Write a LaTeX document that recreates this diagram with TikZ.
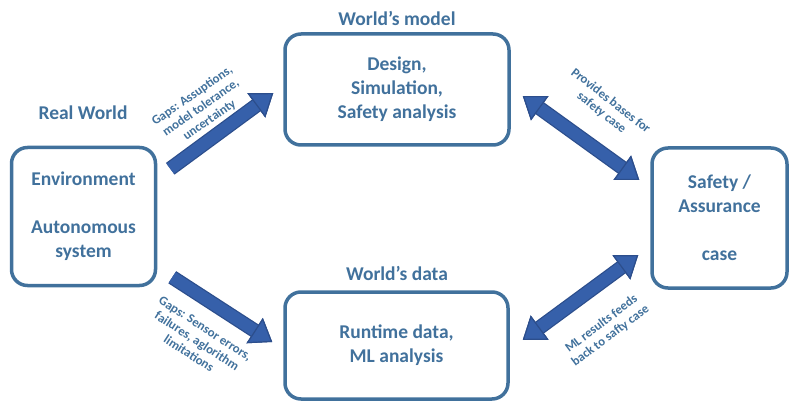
\documentclass[tikz,border=0pt]{standalone}
\usepackage{fontspec}
\setmainfont{Carlito}
\usepackage{tikz}
\usetikzlibrary{arrows.meta}
\usetikzlibrary{positioning}
\definecolor{boxblue}{RGB}{65,113,156}
\definecolor{txtblue}{RGB}{65,113,156}
\definecolor{arrowfill}{RGB}{54,96,170}
\definecolor{arrowedge}{RGB}{44,78,140}
\tikzset{
    worldbox/.style={draw=boxblue, line width=3.5pt, rounded corners=16pt, align=center,
        text=txtblue, font=\bfseries\fontsize{19.5}{24}\selectfont},
    heading/.style={text=txtblue, font=\bfseries\fontsize{19.5}{24}\selectfont},
    gaplabel/.style={text=txtblue, align=center, font=\bfseries\fontsize{12.8}{15}\selectfont},
    fatarrow/.style={draw=arrowfill, line width=12pt,
        >={Triangle[width=30pt,length=21pt,color=arrowedge,fill=arrowfill,line width=1.2pt]},
        preaction={draw=arrowedge, line width=14.5pt}},
}

\begin{document}
\begin{tikzpicture}[x=1pt, y=1pt]
	\useasboundingbox (0,0) rectangle (791,407);
	% boxes
	\node[worldbox, minimum width=144pt, minimum height=138pt] (rw) at (83.5,190.5) {Environment\\[24pt]Autonomous\\system};
	\node[worldbox, minimum width=224pt, minimum height=111pt] (wm) at (397,317.5) {Design,\\Simulation,\\Safety analysis};
	\node[worldbox, minimum width=223pt, minimum height=107pt] (wd) at (396.5,61.5) {Runtime data,\\ML analysis};
	\node[worldbox, minimum width=135pt, minimum height=140pt] (sc) at (719.5,189) {Safety /\\Assurance\\[24pt]case};
	% headings
	\node[heading] (rwt) at (83,294) {Real World};
	\node[heading] (wmt) at (397,389) {World's model};
	\node[heading] (wdt) at (397,134) {World's data};
	% arrows
	\draw[fatarrow,->] ([xshift=13pt,yshift=-23pt]rw.north east) -- ([xshift=-10pt,yshift=-3.5pt]wm.west);
	\draw[fatarrow,->] ([xshift=15pt,yshift=10pt]rw.south east) -- ([xshift=-11pt,yshift=3.5pt]wd.west);
	\draw[fatarrow,<->] ([xshift=12pt,yshift=-6.5pt]wm.east) -- ([xshift=-11pt,yshift=38pt]sc.west);
	\draw[fatarrow,<->] ([xshift=13pt,yshift=5.5pt]wd.east) -- ([xshift=-12pt,yshift=-37pt]sc.west);
	% labels
	\node[gaplabel, rotate=35] (gm) at (201,299) {Gaps: Assuptions,\\model tolerance,\\uncertainty};
	\node[gaplabel, rotate=-33] (gd) at (197,66) {Gaps: Sensor errors,\\failures, aglorithm\\limitations};
	\node[gaplabel, rotate=-38] (pb) at (606,300) {Provides bases for\\safety case};
	\node[gaplabel, rotate=37] (ml) at (606,77) {ML results feeds\\back to safty case};
\end{tikzpicture}
\end{document}
